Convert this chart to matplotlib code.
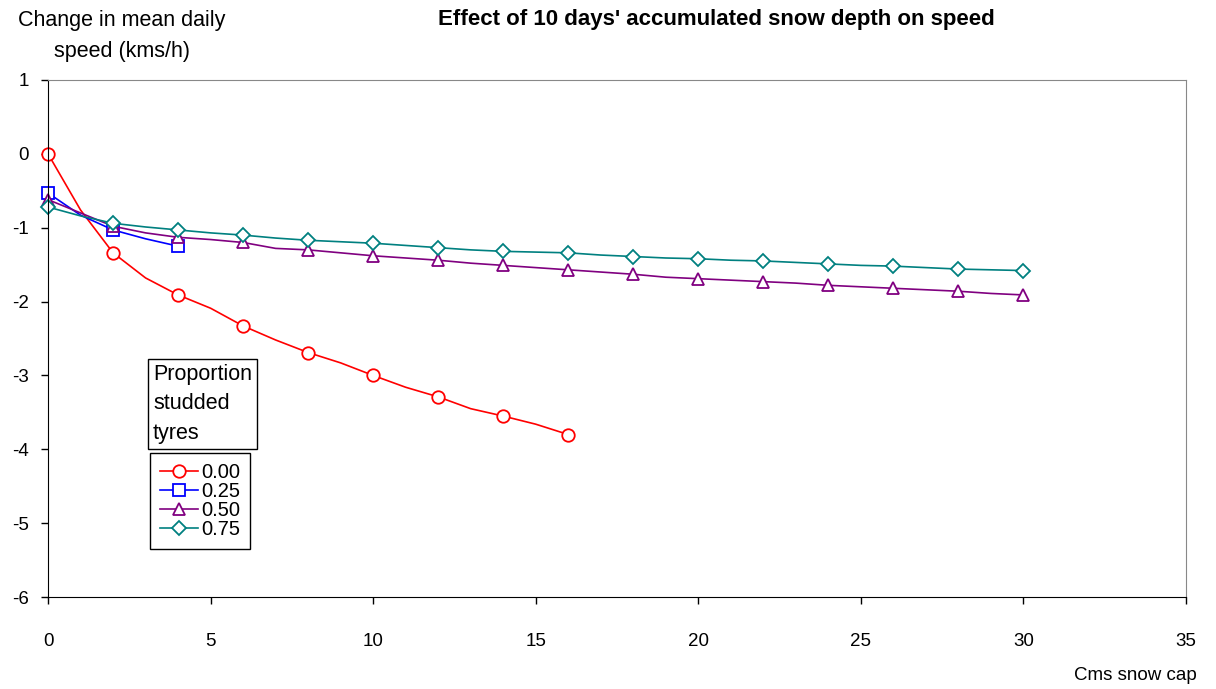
import matplotlib.pyplot as plt
import numpy as np

plt.rcParams['font.family'] = ['Liberation Sans', 'DejaVu Sans']
plt.rcParams['axes.unicode_minus'] = False

# snow depth (cm), one point per cm; markers on every second point
x_red = list(range(0, 17))
x_blue = list(range(0, 5))
x_long = list(range(0, 31))

# change in mean daily speed, by proportion of studded tyres
p000 = [0.00, -0.76, -1.34, -1.68, -1.91, -2.09, -2.33, -2.52, -2.69,
        -2.83, -3.00, -3.16, -3.29, -3.45, -3.55, -3.66, -3.80]
p025 = [-0.53, -0.83, -1.03, -1.15, -1.25]
p050 = [-0.62, -0.80, -0.98, -1.07, -1.13, -1.16, -1.20, -1.28, -1.30, -1.34,
        -1.38, -1.41, -1.44, -1.48, -1.51, -1.54, -1.57, -1.60, -1.63, -1.67,
        -1.69, -1.71, -1.73, -1.75, -1.78, -1.80, -1.82, -1.84, -1.86, -1.89,
        -1.91]
p075 = [-0.72, -0.84, -0.94, -0.99, -1.03, -1.07, -1.10, -1.14, -1.17, -1.19,
        -1.21, -1.24, -1.27, -1.30, -1.32, -1.33, -1.34, -1.37, -1.39, -1.41,
        -1.42, -1.44, -1.45, -1.47, -1.49, -1.51, -1.52, -1.54, -1.56, -1.57,
        -1.58]

labels = ['0.00', '0.25', '0.50', '0.75']

fig = plt.figure(figsize=(12.16, 6.89), dpi=100)
ax = fig.add_axes([0.0395, 0.1335, 0.9358, 0.7504])

style = dict(lw=1.2, ms=9, mfc='white', mew=1.3, markevery=2, clip_on=False)
ax.plot(x_red, p000, 'o-', color='#FF0000', label=labels[0], **style)
ax.plot(x_blue, p025, 's-', color='#0000FF', label=labels[1], **style)
ax.plot(x_long, p050, '^-', color='#800080', label=labels[2], **style)
ax.plot(x_long, p075, 'D-', color='#008080', label=labels[3],
        lw=1.2, ms=7.5, mfc='white', mew=1.3, markevery=2, clip_on=False)

ax.set_xlim(0, 35)
ax.set_ylim(-6, 1)
ax.set_xticks(range(0, 36, 5))
ax.set_yticks(range(-6, 2))
ax.tick_params(direction='out', length=5, width=1, labelsize=13.5)
ax.tick_params(axis='x', pad=21)
ax.tick_params(axis='y', pad=9)
ax.spines['left'].set_color('black')
ax.spines['bottom'].set_color('black')
ax.spines['top'].set_color('#888888')
ax.spines['right'].set_color('#888888')

fig.text(716 / 1216, 1 - 19 / 689, "Effect of 10 days' accumulated snow depth on speed",
         ha='center', va='center', fontsize=16, fontweight='bold')
fig.text(122 / 1216, 1 - 36 / 689, 'Change in mean daily\nspeed (kms/h)',
         ha='center', va='center', fontsize=15.5, linespacing=1.65)
fig.text(1135 / 1216, 1 - 675 / 689, 'Cms snow cap',
         ha='center', va='center', fontsize=13.5)

# legend title in its own box, legend below it
fig.text(153 / 1216, 1 - 404 / 689, 'Proportion\nstudded\ntyres',
         ha='left', va='center', fontsize=15.5, linespacing=1.55,
         bbox=dict(boxstyle='square,pad=0.22', fc='white', ec='black', lw=1))
leg = ax.legend(loc='upper left', bbox_to_anchor=(150 / 1216, 1 - 453 / 689),
                bbox_transform=fig.transFigure, fontsize=14.5, frameon=True,
                fancybox=False, edgecolor='black', framealpha=1,
                labelspacing=0.0, handlelength=1.9, handletextpad=0.15,
                borderpad=0.5, borderaxespad=0)
leg.get_frame().set_linewidth(1)

fig.savefig('out.png', dpi=100)
